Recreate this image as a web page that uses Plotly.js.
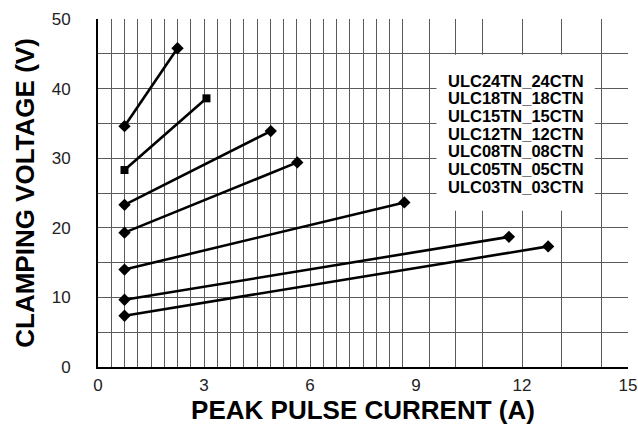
<!DOCTYPE html>
<html>
<head>
<meta charset="utf-8">
<script src="https://cdn.plot.ly/plotly-3.0.1.min.js"></script>
<style>html,body{margin:0;padding:0;background:#fff}#chart{width:638px;height:433px}</style>
</head>
<body>
<div id="chart"></div>
<script>
// Series names (legend order, top to bottom)
const names = ['ULC24TN_24CTN','ULC18TN_18CTN','ULC15TN_15CTN','ULC12TN_12CTN','ULC08TN_08CTN','ULC05TN_05CTN','ULC03TN_03CTN'];
// Peak pulse current (A) and clamping voltage (V), two points per series
const x24 = [0.75, 2.25],  y24 = [34.6, 45.8];
const x18 = [0.75, 3.07],  y18 = [28.3, 38.6];
const x15 = [0.75, 4.89],  y15 = [23.3, 33.9];
const x12 = [0.75, 5.64],  y12 = [19.3, 29.4];
const x08 = [0.75, 8.67],  y08 = [14.0, 23.65];
const x05 = [0.75, 11.63], y05 = [9.67, 18.7];
const x03 = [0.75, 12.74], y03 = [7.37, 17.33];
// Axis tick labels
const xTicks = [0, 3, 6, 9, 12, 15];
const yTicks = [0, 10, 20, 30, 40, 50];

// grid positions (style only)
const gridX = [];
for (let k = 1; k <= 23; k++) gridX.push(k * 0.375);
gridX.push(9.375, 10.125, 10.875, 12, 13.125, 14.25, 15);

const xs = [x24, x18, x15, x12, x08, x05, x03];
const ys = [y24, y18, y15, y12, y08, y05, y03];
const symbols = ['diamond','square','diamond','diamond','diamond','diamond','diamond'];

const traces = names.map((n, i) => ({
  type: 'scatter', mode: 'lines+markers', name: n,
  x: xs[i], y: ys[i],
  line: {color: '#000', width: 2.6},
  marker: {color: '#000', symbol: symbols[i], size: symbols[i] === 'square' ? 8 : 9.5},
  showlegend: false
}));

const gridColor = '#5a5a5a';
const legendAnn = names.map((n, i) => ({
  xref: 'x', yref: 'paper', x: 9.84, xanchor: 'left',
  y: 0.8230 - i * 0.0508, yanchor: 'middle',
  text: n, showarrow: false,
  font: {family: 'Liberation Sans, Arial, sans-serif', size: 16.5, color: '#000', weight: 'bold'}
}));

const layout = {
  width: 638, height: 433,
  margin: {l: 98, r: 10, t: 19, b: 66},
  paper_bgcolor: '#fff', plot_bgcolor: '#fff',
  font: {family: 'Liberation Sans, Arial, sans-serif', color: '#222'},
  showlegend: false,
  xaxis: {
    range: [0, 15], tickmode: 'array', tickvals: xTicks, ticktext: xTicks.map(String),
    showgrid: false, zeroline: false, showline: true, linecolor: '#000', linewidth: 2,
    ticks: '', ticklabelstandoff: 2,
    tickfont: {size: 17, color: '#222'},
    minor: {tickmode: 'array', tickvals: gridX, showgrid: true, gridcolor: gridColor, gridwidth: 1, ticks: ''},
    title: {text: '<b>PEAK PULSE CURRENT (A)</b>', font: {size: 26, color: '#000'}, standoff: 6},
    fixedrange: true
  },
  yaxis: {
    range: [0, 50], tickmode: 'array', tickvals: yTicks, ticktext: yTicks.map(String),
    showgrid: true, gridcolor: gridColor, gridwidth: 1,
    zeroline: false, showline: true, linecolor: '#000', linewidth: 2,
    ticks: '', ticklabelstandoff: 22,
    tickfont: {size: 17, color: '#222'},
    minor: {dtick: 5, showgrid: true, gridcolor: gridColor, gridwidth: 1, ticks: ''},
    title: {text: '<b>CLAMPING VOLTAGE (V)</b>', font: {size: 26, color: '#000'}, standoff: 10},
    fixedrange: true
  },
  shapes: [
    {type: 'rect', xref: 'x', yref: 'y', x0: 9.58, x1: 14.06, y0: 22.45, y1: 44.85,
     fillcolor: '#fff', line: {width: 0}, layer: 'between'}
  ],
  annotations: legendAnn
};

Plotly.newPlot('chart', traces, layout, {staticPlot: true, displayModeBar: false});
</script>
</body>
</html>
